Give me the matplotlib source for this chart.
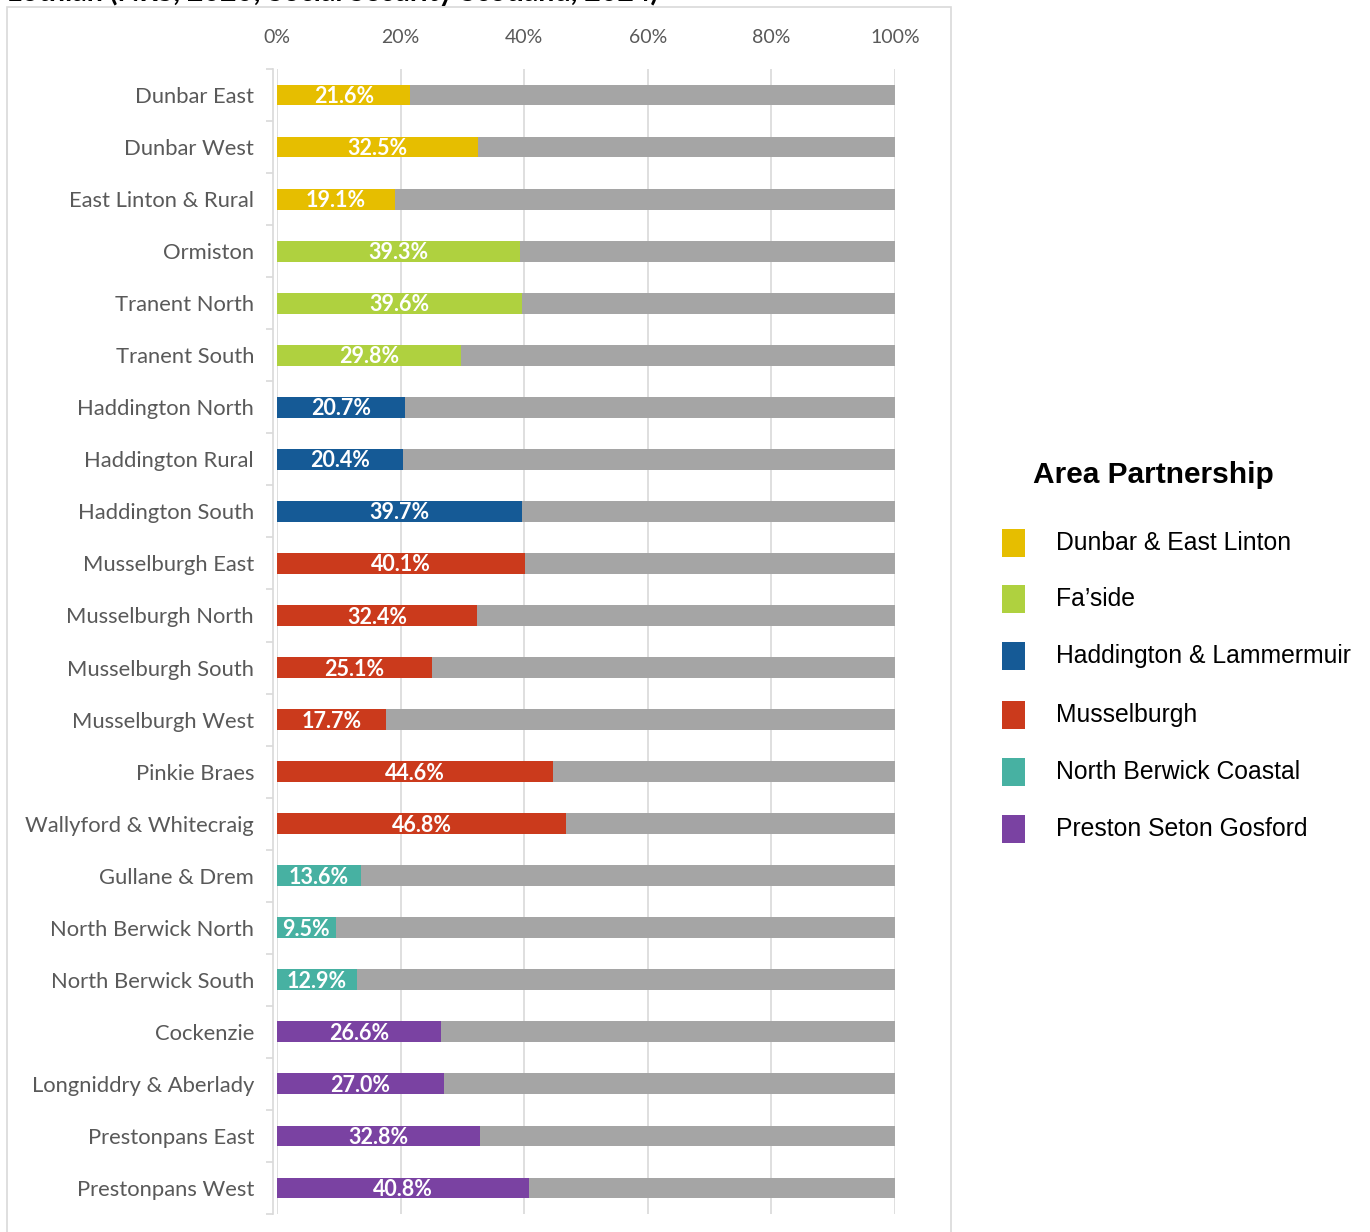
import matplotlib.pyplot as plt
from matplotlib.patches import Rectangle
import numpy as np

areas = ['Dunbar East', 'Dunbar West', 'East Linton & Rural', 'Ormiston', 'Tranent North',
         'Tranent South', 'Haddington North', 'Haddington Rural', 'Haddington South',
         'Musselburgh East', 'Musselburgh North', 'Musselburgh South', 'Musselburgh West',
         'Pinkie Braes', 'Wallyford & Whitecraig', 'Gullane & Drem', 'North Berwick North',
         'North Berwick South', 'Cockenzie', 'Longniddry & Aberlady', 'Prestonpans East',
         'Prestonpans West']
values = [21.6, 32.5, 19.1, 39.3, 39.6, 29.8, 20.7, 20.4, 39.7, 40.1, 32.4, 25.1, 17.7,
          44.6, 46.8, 13.6, 9.5, 12.9, 26.6, 27.0, 32.8, 40.8]
partnership = [0, 0, 0, 1, 1, 1, 2, 2, 2, 3, 3, 3, 3, 3, 3, 4, 4, 4, 5, 5, 5, 5]
partnerships = ['Dunbar & East Linton', 'Fa\u2019side', 'Haddington & Lammermuir',
                'Musselburgh', 'North Berwick Coastal', 'Preston Seton Gosford']
colours = ['#E6BE00', '#AFD13F', '#155A96', '#CB3A1C', '#47B1A2', '#7A42A2']
rest_colour = '#A5A5A5'

plt.rcParams['font.family'] = ['Lato', 'DejaVu Sans']

fig = plt.figure(figsize=(13.7, 12.32), dpi=100)
W, H = 1370, 1232

# chart area border
fig.patches.append(Rectangle((7 / W, -0.05), (951 - 7) / W, 1 - 7 / H + 0.05,
                             transform=fig.transFigure, fill=False,
                             edgecolor='#D9D9D9', linewidth=1.2))

# title is cut off at the top edge in the original too
fig.text(7 / W, 1 - 1 / H, 'Lothian (NRS, 2020; Social Security Scotland, 2024)',
         fontsize=20.5, fontweight='bold', va='baseline', ha='left')

ax = fig.add_axes([277 / W, 1 - 1214 / H, (895 - 277) / W, (1214 - 69) / H])
y = np.arange(len(areas))
bar_cols = [colours[p] for p in partnership]
ax.barh(y, values, height=0.4, color=bar_cols, zorder=3)
ax.barh(y, [100 - v for v in values], left=values, height=0.4, color=rest_colour, zorder=3)

for yi, v in zip(y, values):
    ax.text(v / 2, yi + 0.03, f'{v:.1f}%', ha='center', va='center', color='white',
            fontsize=15.5, fontweight='bold', zorder=4)

ax.set_xlim(0, 100)
ax.set_ylim(len(areas) - 0.5, -0.5)
ax.xaxis.tick_top()
ax.set_xticks(np.arange(0, 101, 20))
ax.set_xticklabels([f'{t}%' for t in range(0, 101, 20)])
ax.tick_params(axis='x', length=0, pad=16.5, labelsize=14, labelcolor='#595959')
ax.grid(axis='x', color='#D9D9D9', linewidth=1.2, zorder=0)

ax.set_yticks(y)
ax.set_yticks(np.arange(-0.5, len(areas)), minor=True)
ax.set_yticklabels(areas)
ax.tick_params(axis='y', which='major', length=0, pad=13.5, labelsize=15.8,
               labelcolor='#595959')
ax.tick_params(axis='y', which='minor', length=5, color='#D9D9D9', width=1.2)

for s in ['top', 'right', 'bottom']:
    ax.spines[s].set_visible(False)
ax.spines['left'].set_color('#D9D9D9')
ax.spines['left'].set_linewidth(1.2)
ax.spines['left'].set_position(('outward', 3))

# legend
fig.text(1033 / W, 1 - 475 / H, 'Area Partnership', fontsize=21.5, fontweight='bold',
         family='Liberation Sans', va='center', ha='left')
leg_y = [543, 599, 656, 715, 772, 829]
for name, col, ly in zip(partnerships, colours, leg_y):
    fig.patches.append(Rectangle((1002 / W, 1 - (ly + 14) / H), 23 / W, 28 / H,
                                 transform=fig.transFigure, facecolor=col,
                                 edgecolor='none'))
    fig.text(1056 / W, 1 - ly / H, name, fontsize=17.8, family='Liberation Sans',
             va='center', ha='left')

fig.savefig('out.png', dpi=100)
